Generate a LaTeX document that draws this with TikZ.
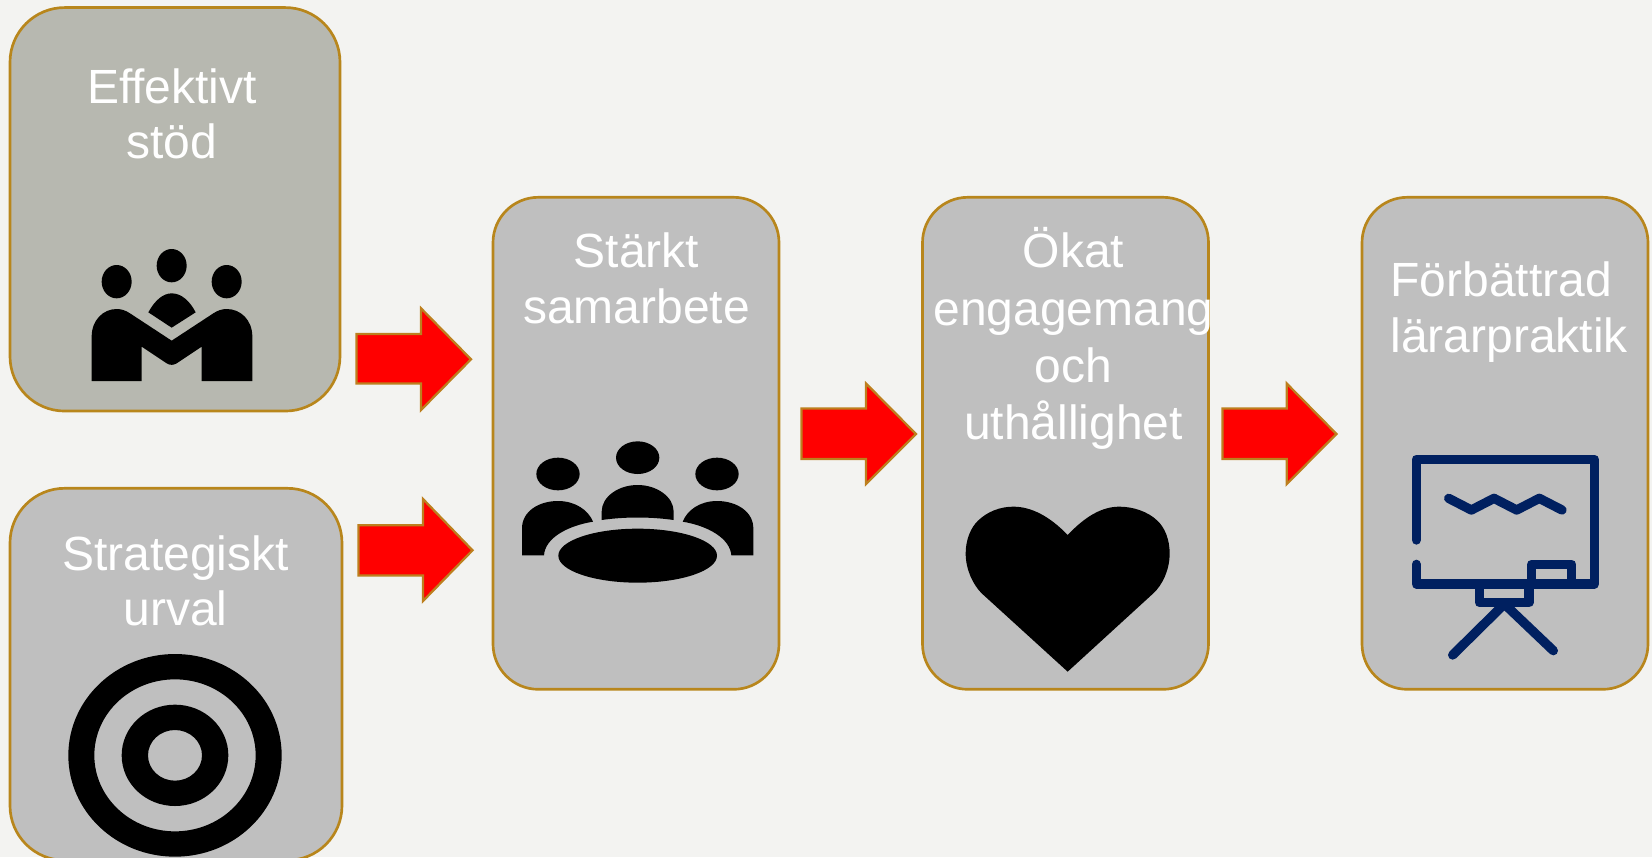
\documentclass[tikz,border=0pt]{standalone}
\usepackage{fontspec}
\setmainfont{Liberation Sans}
\definecolor{pagebg}{HTML}{F3F3F1}
\definecolor{boxgold}{HTML}{B8861C}
\definecolor{boxgrey}{HTML}{BFBFBF}
\definecolor{boxolive}{HTML}{B7B8B0}
\definecolor{arrowedge}{HTML}{BD7F1E}
\definecolor{navyicon}{HTML}{002060}
\tikzset{
  card/.style={draw=boxgold,line width=2pt,fill=boxgrey,rectangle,inner sep=0pt,outer sep=0pt},
  cardbig/.style={card,rounded corners=41pt},
  cardtall/.style={card,rounded corners=34pt,minimum width=214.5pt,minimum height=369pt},
  lbl/.style={text=white,align=center,inner sep=0pt,font=\fontsize{36}{41.4}\selectfont},
  blockarrow/.style={draw=arrowedge,fill=red,line width=1.7pt,miter limit=10},
  zoomunits/.style={x=0.25pt,y=-0.25pt},
  navyline/.style={draw=navyicon,line width=7pt,line cap=round,line join=round}
}
\begin{document}
\begin{tikzpicture}[x=0.75pt,y=-0.75pt]
\useasboundingbox (0,0) rectangle (1652,857);
\fill[pagebg] (0,0) rectangle (1652,857);

% cards
\node[cardbig,fill=boxolive,minimum width=247.5pt,minimum height=302.6pt] (stod) at (175,209.3) {};
\node[cardbig,minimum width=249pt,minimum height=279pt] (urval) at (176,674.3) {};
\node[cardtall] (samarbete) at (636,443.3) {};
\node[cardtall] (engagemang) at (1065.5,443.3) {};
\node[cardtall] (praktik) at (1505,443.3) {};

% labels
\node[lbl] (t1) at (172,114) {Effektivt\\stöd};
\node[lbl] (t2) at (175.5,581) {Strategiskt\\urval};
\node[lbl] (t3) at (636.5,278.5) {Stärkt\\[0.8pt]samarbete};
\node[lbl] (t4) at (1073.6,338.6) {Ökat\\[1.5pt]engagemang\\[1.5pt]och\\[1.5pt]uthållighet};
\node[lbl] (t5) at (1509.3,312) {Förbättrad\hspace*{12pt}\\[0.8pt]lärarpraktik};

% block arrows
\draw[blockarrow] (356.5,334) -- (421,334) -- (421,308.3) -- (471,359.3) -- (421,410) -- (421,383.5) -- (356.5,383.5) -- cycle;
\draw[blockarrow] (358.5,525.2) -- (423,525.2) -- (423,499) -- (472.5,550.3) -- (423,601) -- (423,575.5) -- (358.5,575.5) -- cycle;
\draw[blockarrow] (801.5,408.5) -- (866,408.5) -- (866,383.5) -- (916,434) -- (866,484) -- (866,459) -- (801.5,459) -- cycle;
\draw[blockarrow] (1222.5,408.5) -- (1286.7,408.5) -- (1286.7,383.5) -- (1336.5,434) -- (1286.7,484) -- (1286.7,459) -- (1222.5,459) -- cycle;

% handshake group icon
\begin{scope}[zoomunits,shift={(0,600)}]
\fill (515,197) ellipse [x radius=45,y radius=50];
\fill (350,245) ellipse [x radius=45,y radius=50];
\fill (680,245) ellipse [x radius=45,y radius=50];
\fill (445,337) .. controls (465,300) and (490,280) .. (515,280) .. controls (542,280) and (568,300) .. (587,337) -- (515,383) -- cycle;
\fill (275,543) -- (275,410) .. controls (275,360) and (310,327) .. (350,327) .. controls (365,327) and (378,332) .. (390,340)
  -- (515,422) -- (640,340) .. controls (652,332) and (665,327) .. (680,327) .. controls (722,327) and (757,360) .. (757,410)
  -- (757,543) -- (605,543) -- (605,440) -- (530,490) .. controls (520,496) and (510,496) .. (500,490) -- (425,440) -- (425,543) -- cycle;
\end{scope}

% target icon
\begin{scope}[zoomunits,shift={(0,1440)}]
\fill[even odd rule] (525,826) ellipse [x radius=320,y radius=304]
  (525,826) ellipse [x radius=242,y radius=228]
  (525,826) ellipse [x radius=160,y radius=152]
  (525,826) ellipse [x radius=81,y radius=76];
\end{scope}

% meeting icon
\begin{scope}[zoomunits,shift={(1470,1200)}]
\fill (443,173) ellipse [x radius=65,y radius=49];
\fill (204,222) ellipse [x radius=65,y radius=49];
\fill (681,222) ellipse [x radius=65,y radius=49];
\fill (443,467) ellipse [x radius=238,y radius=81];
\fill (335,360) -- (335,335) .. controls (335,290) and (385,255) .. (443,255) .. controls (500,255) and (551,290) .. (551,335) -- (551,360) .. controls (480,350) and (405,350) .. (335,360) -- cycle;
\fill (96,466) -- (96,385) .. controls (96,335) and (145,303) .. (204,303) .. controls (255,303) and (295,330) .. (309,365) .. controls (230,378) and (165,415) .. (162,466) -- cycle;
\fill (790,466) -- (790,385) .. controls (790,335) and (740,303) .. (681,303) .. controls (630,303) and (592,330) .. (578,365) .. controls (655,378) and (720,415) .. (724,466) -- cycle;
\end{scope}

% heart icon
\begin{scope}[zoomunits,shift={(2760,1440)}]
\fill (443,165) .. controls (390,110) and (335,80) .. (280,80) .. controls (240,80) and (202,95) .. (174,122)
  .. controls (152,143) and (137,180) .. (137,220)
  .. controls (137,270) and (160,315) .. (185,340) -- (443,575) -- (700,340) .. controls (727,315) and (749,270) .. (749,220)
  .. controls (749,180) and (735,143) .. (712,122)
  .. controls (684,95) and (640,80) .. (598,80) .. controls (545,80) and (495,110) .. (443,165) -- cycle;
\end{scope}

% presentation board icon
\begin{scope}[zoomunits,shift={(4050,1260)}]
\draw[navyline] (199,360) -- (199,118) -- (733,118) -- (733,492) -- (199,492) -- (199,433);
\draw[navyline] (545,492) -- (545,433) -- (665,433) -- (665,492);
\draw[navyline] (389,492) -- (389,548) -- (537,548) -- (537,492);
\draw[navyline] (296,235) -- (364,270) -- (432,235) -- (500,270) -- (568,235) -- (636,270);
\draw[navyline] (308,705) -- (463,552) -- (610,692);
\end{scope}
\end{tikzpicture}
\end{document}
